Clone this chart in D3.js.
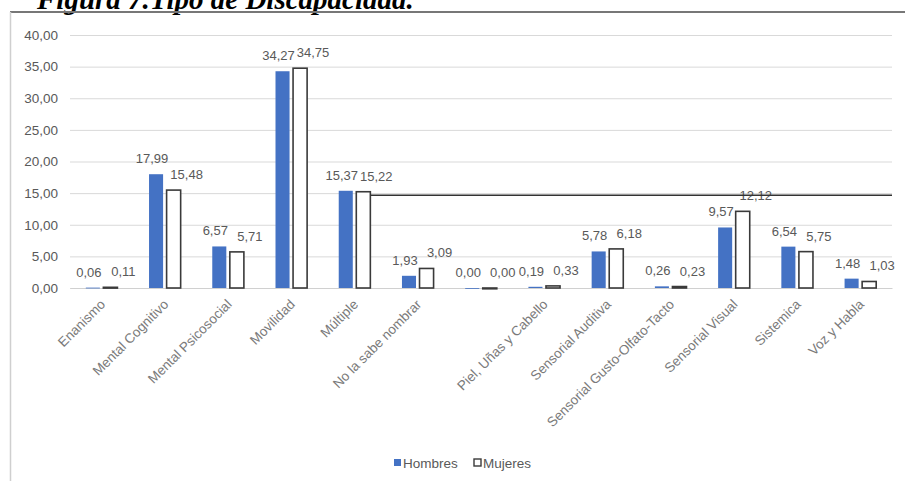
<!DOCTYPE html>
<html>
<head>
<meta charset="utf-8">
<script src="https://cdn.jsdelivr.net/npm/d3@7"></script>
<style>
  body { margin: 0; background: #fff; }
  svg { display: block; }
</style>
</head>
<body>
<div id="chart"></div>
<script>
const categories = ["Enanismo", "Mental Cognitivo", "Mental Psicosocial", "Movilidad", "Múltiple",
  "No la sabe nombrar", "", "Piel, Uñas y Cabello", "Sensorial Auditiva",
  "Sensorial Gusto-Olfato-Tacto", "Sensorial Visual", "Sistemica", "Voz y Habla"];
const hombres = [0.06, 17.99, 6.57, 34.27, 15.37, 1.93, 0.00, 0.19, 5.78, 0.26, 9.57, 6.54, 1.48];
const mujeres = [0.11, 15.48, 5.71, 34.75, 15.22, 3.09, 0.00, 0.33, 6.18, 0.23, 12.12, 5.75, 1.03];
const yTicks = [0, 5, 10, 15, 20, 25, 30, 35, 40];
const seriesNames = ["Hombres", "Mujeres"];

const width = 905, height = 481;
const margin = {top: 35, left: 70, right: 13, bottom: 193};
const fmt = v => d3.format(".2f")(v).replace(".", ",");
const labelColor = "#595959";
const font = "Liberation Sans, Arial, sans-serif";

const svg = d3.select("#chart").append("svg")
  .attr("width", width)
  .attr("height", height);

// title (its top is cut off in the source, keep it that way)
svg.append("text")
  .attr("x", 37)
  .attr("y", 9)
  .attr("font-family", "Liberation Serif, Times New Roman, serif")
  .attr("font-weight", "bold")
  .attr("font-style", "italic")
  .attr("font-size", 29)
  .attr("fill", "#000")
  .text("Figura 7.Tipo de Discapacidad.");

// frame
svg.append("line").attr("x1", 10).attr("x2", width).attr("y1", 12).attr("y2", 12)
  .attr("stroke", "#777").attr("stroke-width", 2);
svg.append("line").attr("x1", 10.5).attr("x2", 10.5).attr("y1", 12).attr("y2", height)
  .attr("stroke", "#cfcfcf").attr("stroke-width", 1.5);

const x = d3.scaleBand()
  .domain(d3.range(categories.length))
  .range([margin.left, width - margin.right])
  .paddingInner(0)
  .paddingOuter(0);

const xSub = d3.scaleBand()
  .domain(seriesNames)
  .range([x.bandwidth() * 0.25, x.bandwidth() * 0.75])
  .paddingInner(0.2);

const y = d3.scaleLinear()
  .domain([0, 40])
  .range([height - margin.bottom, margin.top]);

// gridlines + y labels
svg.append("g")
  .attr("transform", `translate(${margin.left},0)`)
  .call(d3.axisLeft(y)
    .tickValues(yTicks)
    .tickSize(-(width - margin.left - margin.right))
    .tickPadding(12)
    .tickFormat(fmt))
  .call(g => g.select(".domain").remove())
  .call(g => g.selectAll(".tick line").attr("stroke", "#d9d9d9"))
  .call(g => g.selectAll(".tick text")
    .attr("fill", labelColor)
    .attr("font-family", font)
    .attr("font-size", 13.5));

// x axis labels
svg.append("g")
  .attr("transform", `translate(0,${y(0)})`)
  .call(d3.axisBottom(x).tickSize(0).tickFormat(i => categories[i]))
  .call(g => g.select(".domain").attr("stroke", "#d0d0d0"))
  .call(g => g.selectAll(".tick text")
    .attr("fill", "#7a7a7a")
    .attr("font-family", font)
    .attr("font-size", 13.5)
    .attr("text-anchor", "end")
    .attr("transform", "translate(3,12) rotate(-45)")
    .attr("dy", "0.35em")
    .attr("dx", "-0.2em")
    .attr("y", 0));

const rows = categories.map((c, i) => ({i, vals: [
  {s: "Hombres", v: hombres[i]},
  {s: "Mujeres", v: mujeres[i]}
]}));

const groups = svg.append("g").selectAll("g")
  .data(rows)
  .join("g")
  .attr("transform", d => `translate(${x(d.i)},0)`);

groups.selectAll("rect")
  .data(d => d.vals)
  .join("rect")
  .attr("x", d => xSub(d.s))
  .attr("width", xSub.bandwidth())
  .attr("y", d => y(d.v))
  .attr("height", d => Math.max(y(0) - y(d.v), 0.8))
  .attr("fill", d => d.s === "Hombres" ? "#4472c4" : "#fff")
  .attr("stroke", d => d.s === "Hombres" ? "none" : "#3a3a3a")
  .attr("stroke-width", 1.6);

groups.selectAll("text")
  .data(d => d.vals)
  .join("text")
  .attr("x", d => xSub(d.s) + xSub.bandwidth() / 2 + (d.s === "Hombres" ? -4 : 13))
  .attr("y", d => y(d.v) - 11)
  .attr("text-anchor", "middle")
  .attr("font-family", font)
  .attr("font-size", 13)
  .attr("fill", labelColor)
  .text(d => fmt(d.v));

// long leader line running from the Múltiple (Mujeres) bar to the right edge
const mi = categories.indexOf("Múltiple");
svg.append("line")
  .attr("x1", x(mi) + xSub("Mujeres") + xSub.bandwidth())
  .attr("x2", width - margin.right)
  .attr("y1", y(mujeres[mi]) + 3.5)
  .attr("y2", y(mujeres[mi]) + 3.5)
  .attr("stroke", "#333")
  .attr("stroke-width", 1.4);

// legend
const legend = svg.append("g").attr("transform", "translate(394,463)");
const items = legend.selectAll("g")
  .data(seriesNames)
  .join("g")
  .attr("transform", (d, i) => `translate(${i * 80},0)`);
items.append("rect")
  .attr("x", 0).attr("y", -4).attr("width", 7).attr("height", 7)
  .attr("fill", d => d === "Hombres" ? "#4472c4" : "#fff")
  .attr("stroke", d => d === "Hombres" ? "none" : "#3a3a3a")
  .attr("stroke-width", 1.4);
items.append("text")
  .attr("x", 9).attr("y", 0).attr("dy", "0.35em")
  .attr("font-family", font)
  .attr("font-size", 13.5)
  .attr("fill", labelColor)
  .text(d => d);
</script>
</body>
</html>
